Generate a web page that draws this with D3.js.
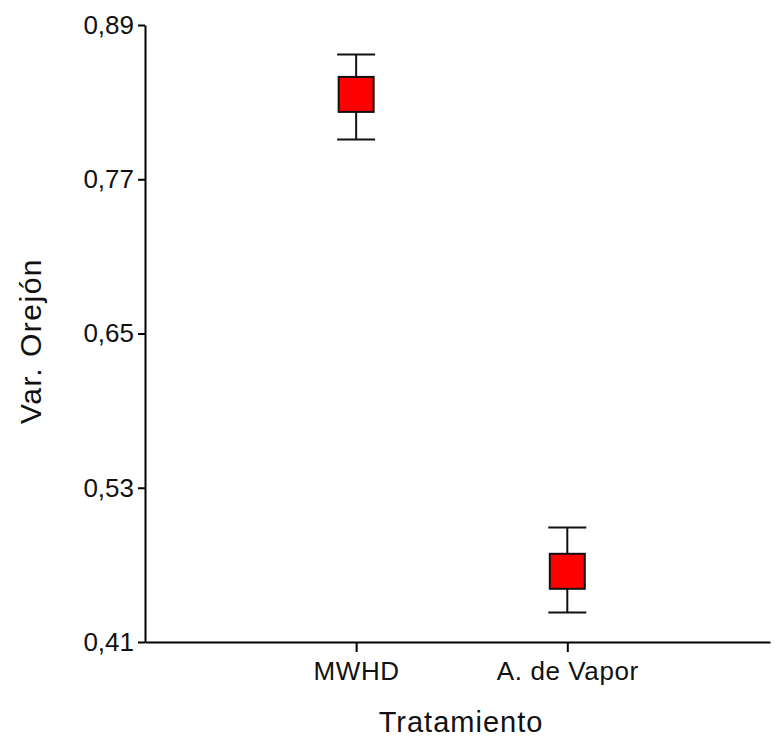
<!DOCTYPE html>
<html>
<head>
<meta charset="utf-8">
<script src="https://cdn.jsdelivr.net/npm/d3@7"></script>
<style>
  body { margin: 0; background: #fff; }
  svg { font-family: "Liberation Sans", Arial, sans-serif; }
</style>
</head>
<body>
<div id="chart"></div>
<script>
const tratamientos = ["MWHD", "A. de Vapor"];
const medias = [0.836, 0.465];
const limInf = [0.801, 0.433];
const limSup = [0.867, 0.499];
const ticksY = [0.41, 0.53, 0.65, 0.77, 0.89];

const largura = 775, altura = 737;
const margem = { top: 25, right: 5, bottom: 95, left: 145 };

const svg = d3.select("#chart").append("svg")
    .attr("width", largura)
    .attr("height", altura);

const dados = tratamientos.map((t, i) => ({ t, i: i + 1, m: medias[i], lo: limInf[i], hi: limSup[i] }));

// Escalas
const x = d3.scaleLinear()
    .domain([0, 2.96])
    .range([margem.left, largura - margem.right]);

const y = d3.scaleLinear()
    .domain([0.41, 0.89])
    .range([altura - margem.bottom, margem.top]);

const fmt = d => d3.format(".2f")(d).replace(".", ",");

// Eixo Y
const eixoY = svg.append("g")
    .attr("transform", `translate(${margem.left},0)`)
    .call(d3.axisLeft(y).tickValues(ticksY).tickFormat(fmt).tickSize(7).tickSizeOuter(0));
eixoY.select(".domain").attr("stroke", "#000").attr("stroke-width", 2);
eixoY.selectAll(".tick line").attr("stroke", "#000").attr("stroke-width", 2);
eixoY.selectAll(".tick text")
    .attr("x", -11)
    .attr("fill", "#111")
    .style("font-size", "26px")
    .style("font-family", "'Liberation Sans', Arial, sans-serif");

// Eixo X
const eixoX = svg.append("g")
    .attr("transform", `translate(0,${altura - margem.bottom})`)
    .call(d3.axisBottom(x).tickValues(dados.map(d => d.i))
        .tickFormat((d, i) => tratamientos[i]).tickSize(10).tickSizeOuter(0));
eixoX.select(".domain").attr("stroke", "#000").attr("stroke-width", 2);
eixoX.selectAll(".tick line").attr("stroke", "#000").attr("stroke-width", 2);
eixoX.selectAll(".tick text")
    .attr("y", 20)
    .attr("fill", "#111")
    .style("font-size", "26px")
    .style("letter-spacing", "0.6px")
    .style("font-family", "'Liberation Sans', Arial, sans-serif");

// Títulos dos eixos
svg.append("text")
    .attr("x", 461)
    .attr("y", 732)
    .attr("text-anchor", "middle")
    .attr("fill", "#111")
    .style("font-size", "29px")
    .style("letter-spacing", "1px")
    .text("Tratamiento");

svg.append("text")
    .attr("transform", "translate(41,341) rotate(-90)")
    .attr("text-anchor", "middle")
    .attr("fill", "#111")
    .style("font-size", "30px")
    .style("letter-spacing", "1.5px")
    .text("Var. Orejón");

// Barras de erro
const capW = 38, lado = 35;
const g = svg.append("g");
g.selectAll("line.err")
    .data(dados).enter().append("line")
    .attr("class", "err")
    .attr("x1", d => x(d.i)).attr("x2", d => x(d.i))
    .attr("y1", d => y(d.hi)).attr("y2", d => y(d.lo))
    .attr("stroke", "#111").attr("stroke-width", 2);
["hi", "lo"].forEach(k => {
    g.selectAll("line.cap" + k)
        .data(dados).enter().append("line")
        .attr("x1", d => x(d.i) - capW / 2).attr("x2", d => x(d.i) + capW / 2)
        .attr("y1", d => y(d[k])).attr("y2", d => y(d[k]))
        .attr("stroke", "#111").attr("stroke-width", 2);
});

// Médias (quadrados vermelhos)
g.selectAll("rect")
    .data(dados).enter().append("rect")
    .attr("x", d => x(d.i) - lado / 2)
    .attr("y", d => y(d.m) - lado / 2)
    .attr("width", lado)
    .attr("height", lado)
    .attr("fill", "#ff0000")
    .attr("stroke", "#111")
    .attr("stroke-width", 2);
</script>
</body>
</html>
